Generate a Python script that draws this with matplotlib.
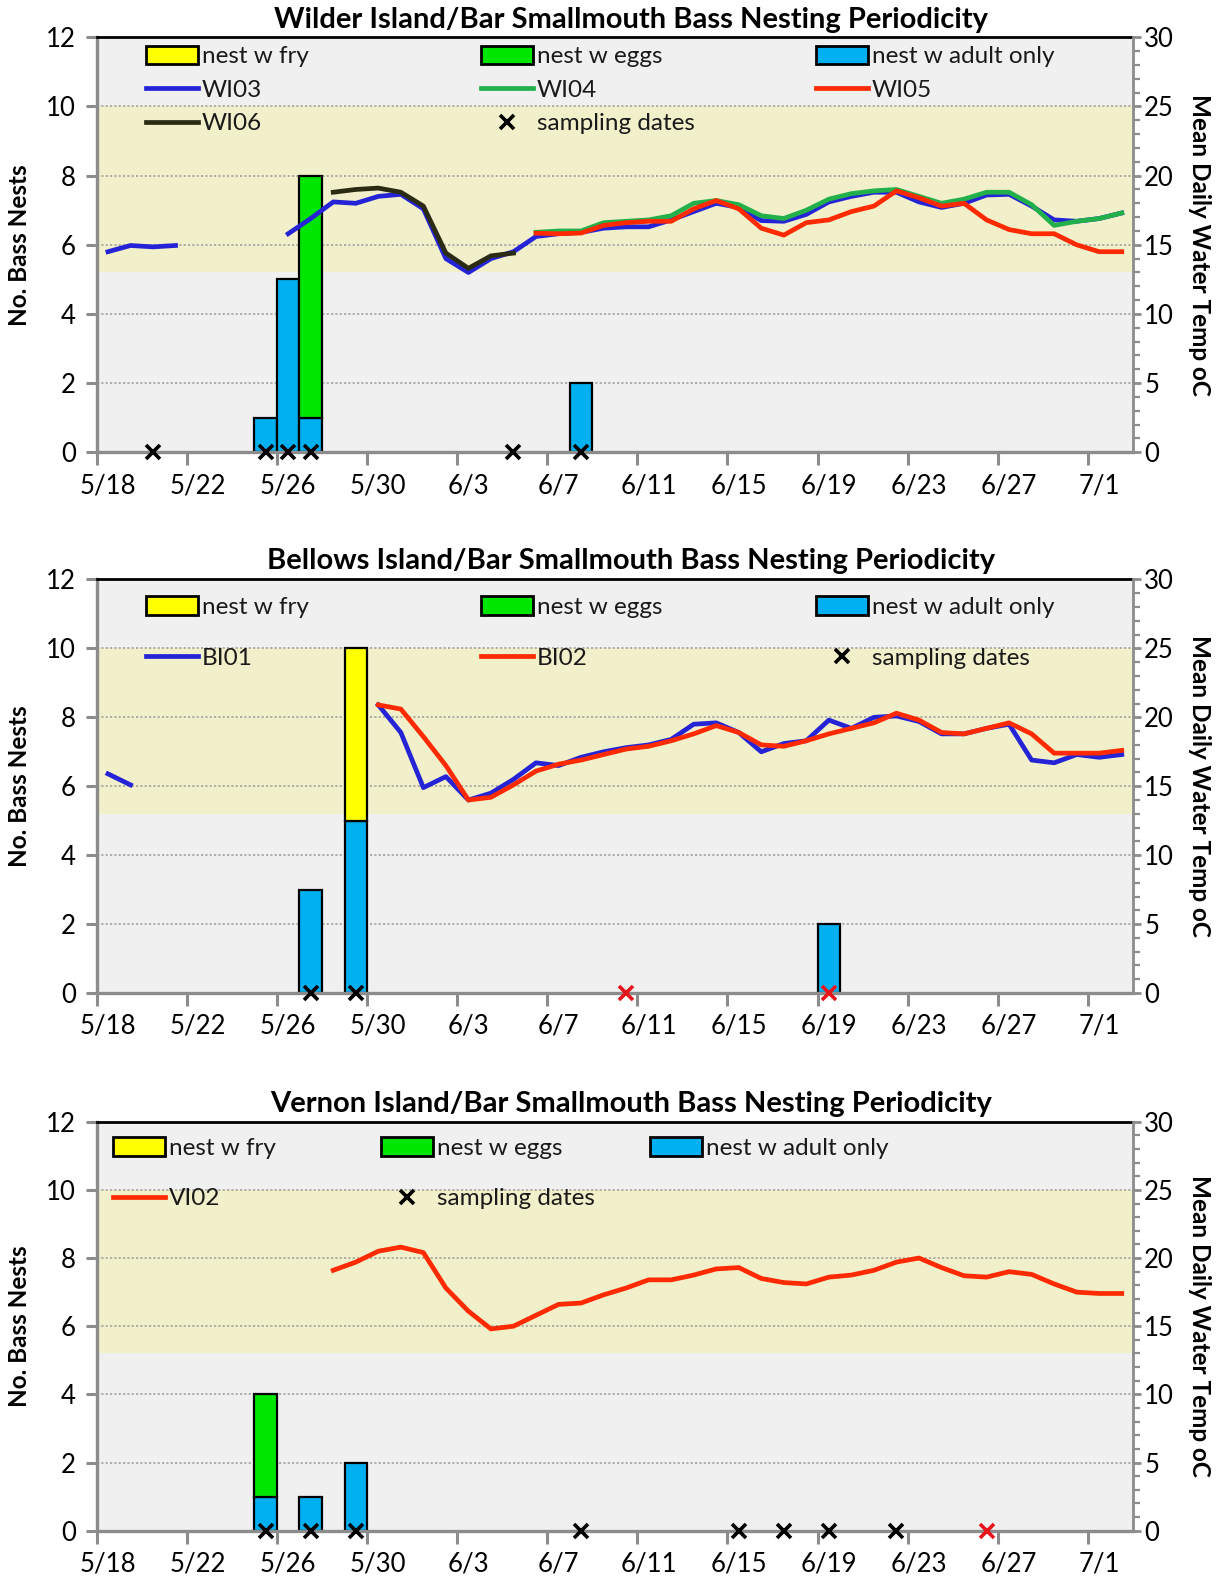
import numpy as np
import matplotlib
matplotlib.use("Agg")
import matplotlib.pyplot as plt
from matplotlib.patches import Patch
from matplotlib.lines import Line2D
from matplotlib.legend import Legend
import datetime as dt

plt.rcParams['font.family'] = ['Lato', 'DejaVu Sans']

nan = np.nan

# ---------------- categories ----------------
start = dt.date(2013, 5, 18)
days = [f"{d.month}/{d.day}" for d in (start + dt.timedelta(i) for i in range(46))]
tick_label_days = days[::4]

NEST_MAX = 12
TEMP_MAX = 30
BAND_LOW, BAND_HIGH = 13, 25   # temperature band (°C)

# ---------------- Wilder ----------------
wilder_bar_dates = ['5/25', '5/26', '5/27', '6/8']
wilder_adult = [1, 5, 1, 2]
wilder_eggs = [0, 0, 7, 0]
wilder_fry = [0, 0, 0, 0]
wilder_samp_black = ['5/20', '5/25', '5/26', '5/27', '6/5', '6/8']
wilder_samp_red = []

WI03 = [14.5, 14.95, 14.85, 14.95, nan, nan, nan, nan, 15.8, 16.9,
        18.1, 18.0, 18.5, 18.65, 17.6, 14.0, 13.0, 14.0, 14.5, 15.6,
        15.8, 15.9, 16.2, 16.3, 16.3, 16.8, 17.4, 18.0, 17.7, 16.75,
        16.7, 17.2, 18.1, 18.5, 18.8, 18.8, 18.1, 17.7, 18.0, 18.6,
        18.65, 17.8, 16.8, 16.7, 16.9, 17.3]
WI04 = [nan] * 19 + [15.9, 16.0, 16.0, 16.6, 16.7, 16.8, 17.1, 18.0, 18.2, 17.9,
                     17.1, 16.9, 17.5, 18.3, 18.7, 18.9, 19.0, 18.5, 18.0, 18.3,
                     18.8, 18.8, 17.9, 16.4, 16.7, 16.9, 17.3]
WI05 = [nan] * 19 + [15.84, 15.8, 15.85, 16.4, 16.6, 16.7, 16.7, 17.6, 18.2, 17.6,
                     16.2, 15.7, 16.6, 16.8, 17.4, 17.8, 18.9, 18.4, 17.8, 18.0,
                     16.8, 16.1, 15.8, 15.8, 15.0, 14.5, 14.5]
WI06 = [nan] * 10 + [18.8, 19.0, 19.1, 18.8, 17.8, 14.4, 13.3, 14.2, 14.4] + [nan] * 27

# ---------------- Bellows ----------------
bellows_bar_dates = ['5/27', '5/29', '6/19']
bellows_adult = [3, 5, 2]
bellows_eggs = [0, 0, 0]
bellows_fry = [0, 5, 0]
bellows_samp_black = ['5/27', '5/29']
bellows_samp_red = ['6/10', '6/19']

BI01 = [15.9, 15.1] + [nan] * 10 + [20.9, 18.9, 14.9, 15.7, 14.0, 14.5, 15.5, 16.7,
                                    16.5, 17.1, 17.5, 17.8, 18.0, 18.4, 19.5, 19.6, 18.9, 17.5,
                                    18.1, 18.3, 19.8, 19.2, 20.0, 20.1, 19.7, 18.8, 18.8, 19.2,
                                    19.5, 16.9, 16.7, 17.3, 17.1, 17.3]
BI02 = [nan] * 12 + [20.9, 20.6, 18.6, 16.5, 14.0, 14.2, 15.1, 16.1,
                     16.6, 16.9, 17.3, 17.7, 17.9, 18.3, 18.8, 19.4, 18.9, 18.0,
                     17.9, 18.3, 18.8, 19.2, 19.6, 20.3, 19.8, 18.9, 18.8, 19.2,
                     19.6, 18.8, 17.4, 17.4, 17.4, 17.6]

# ---------------- Vernon ----------------
vernon_bar_dates = ['5/25', '5/27', '5/29']
vernon_adult = [1, 1, 2]
vernon_eggs = [3, 0, 0]
vernon_fry = [0, 0, 0]
vernon_samp_black = ['5/25', '5/27', '5/29', '6/8', '6/15', '6/17', '6/19', '6/22']
vernon_samp_red = ['6/26']

VI02 = [nan] * 10 + [19.1, 19.7, 20.5, 20.8, 20.4, 17.8, 16.1, 14.8, 15.0, 15.8,
                     16.6, 16.7, 17.3, 17.8, 18.4, 18.4, 18.75, 19.2, 19.3, 18.5,
                     18.2, 18.1, 18.6, 18.75, 19.1, 19.7, 20.0, 19.3, 18.7, 18.6,
                     19.0, 18.8, 18.1, 17.5, 17.4, 17.4]

# ---------------- styles ----------------
C_ADULT = '#00b0f0'
C_EGGS = '#00e600'
C_FRY = '#ffff00'
C_BLUE = '#2424d6'
C_GREEN = '#22b04a'
C_RED = '#ff2a00'
C_DARK = '#2b2b12'
GREY = '#8c8c8c'
FS_TICK = 18.5
FS_LEG = 17.5

W, H = 1223, 1579
fig = plt.figure(figsize=(W / 100, H / 100), dpi=100)


def rect(left, top, right, bottom):
    return [left / W, 1 - bottom / H, (right - left) / W, (bottom - top) / H]


def panel(r, title, title_y, bar_dates, adult, eggs, fry, samp_black, samp_red,
          series, legend_items):
    ax = fig.add_axes(r)
    ax2 = ax.twinx()
    x = np.arange(len(days))
    ax.set_xlim(-0.5, len(days) - 0.5)
    ax.set_ylim(0, NEST_MAX)
    ax2.set_ylim(0, TEMP_MAX)
    ax.set_facecolor('#f0f0f0')
    k = NEST_MAX / TEMP_MAX
    ax.axhspan(BAND_LOW * k, BAND_HIGH * k, color='#f2efcb', zorder=0, lw=0)
    ax.set_axisbelow(True)
    ax.yaxis.grid(True, linestyle=(0, (1.2, 1.2)), color='#a8a8a0', lw=1.3)

    idx = np.array([days.index(d) for d in bar_dates])
    adult = np.array(adult, float)
    eggs = np.array(eggs, float)
    fry = np.array(fry, float)
    for vals, bottom, col in [(adult, 0 * adult, C_ADULT), (eggs, adult, C_EGGS),
                              (fry, adult + eggs, C_FRY)]:
        m = vals > 0
        ax.bar(idx[m], vals[m], bottom=bottom[m], width=1.0, color=col,
               edgecolor='black', lw=1.6, zorder=2)

    for dates, col in [(samp_black, 'black'), (samp_red, '#e8141c')]:
        if dates:
            si = [days.index(d) for d in dates]
            ax.plot(si, np.zeros(len(si)), ls='none', marker='x', color=col,
                    ms=10, mew=2.6, clip_on=False, zorder=6)

    for label, data, col in series:
        ax2.plot(x, np.array(data, float), color=col, lw=3.4, zorder=3,
                 solid_joinstyle='round')

    # spines
    for a in (ax, ax2):
        for s in a.spines.values():
            s.set_visible(False)
    ax.spines['top'].set_visible(True)
    ax.spines['top'].set_color('black')
    ax.spines['top'].set_linewidth(2)
    for s in ('left', 'bottom'):
        ax.spines[s].set_visible(True)
        ax.spines[s].set_color(GREY)
        ax.spines[s].set_linewidth(2.4)
    ax2.spines['right'].set_visible(True)
    ax2.spines['right'].set_color(GREY)
    ax2.spines['right'].set_linewidth(2.0)

    ax.set_yticks(range(0, NEST_MAX + 1, 2))
    ax.tick_params(axis='y', direction='out', length=8, width=2.2, color=GREY,
                   labelsize=FS_TICK, pad=7)
    ax.set_xticks(np.arange(-0.5, len(days), 4))
    ax.set_xticklabels([])
    ax.set_xticks(np.arange(0, len(days), 4), minor=True)
    ax.set_xticklabels(tick_label_days, minor=True)
    ax.tick_params(axis='x', which='major', direction='out', length=9, width=2.2,
                   color=GREY)
    ax.tick_params(axis='x', which='minor', length=0, labelsize=FS_TICK, pad=15)

    ax2.set_yticks(range(0, TEMP_MAX + 1, 5))
    ax2.set_yticks(range(0, TEMP_MAX + 1, 1), minor=True)
    ax2.tick_params(axis='y', which='major', direction='out', length=6, width=2,
                    color=GREY, labelsize=FS_TICK, pad=2)
    ax2.tick_params(axis='y', which='minor', direction='out', length=5, width=1.6,
                    color=GREY)

    # legends
    for h, lab, lx, ly in legend_items:
        leg = Legend(ax2, [h], [lab], loc='center left', bbox_to_anchor=(lx, ly),
                     frameon=False, borderpad=0, borderaxespad=0,
                     handlelength=2.15, handletextpad=0.15, handleheight=0.8,
                     fontsize=FS_LEG, labelcolor='#1a1a1a')
        ax2.add_artist(leg)

    # titles / labels
    fig.text(0.516, 1 - title_y / H, title, ha='center', va='center',
             fontsize=21, fontweight='bold')
    cy = r[1] + r[3] / 2
    fig.text(20 / W, cy, 'No. Bass Nests', rotation=90, ha='center', va='center',
             fontsize=17.5, fontweight='bold')
    fig.text(1199 / W, cy, 'Mean Daily Water Temp oC', rotation=-90, ha='center',
             va='center', fontsize=17.5, fontweight='bold')
    return ax, ax2


def bar_h(col):
    return Patch(facecolor=col, edgecolor='black', lw=2)


def line_h(col):
    return Line2D([], [], color=col, lw=3.4)


samp_h = Line2D([], [], ls='none', marker='x', color='black', ms=10, mew=2.6)

# Wilder
c1, c2, c3 = 0.0476, 0.371, 0.694
r1, r2, r3 = 0.954, 0.873, 0.792
panel(rect(96.7, 37.3, 1133, 452.3),
      'Wilder Island/Bar Smallmouth Bass Nesting Periodicity', 20,
      wilder_bar_dates, wilder_adult, wilder_eggs, wilder_fry,
      wilder_samp_black, wilder_samp_red,
      [('WI03', WI03, C_BLUE), ('WI04', WI04, C_GREEN), ('WI05', WI05, C_RED),
       ('WI06', WI06, C_DARK)],
      [(bar_h(C_FRY), 'nest w fry', c1, r1), (bar_h(C_EGGS), 'nest w eggs', c2, r1),
       (bar_h(C_ADULT), 'nest w adult only', c3, r1),
       (line_h(C_BLUE), 'WI03', c1, r2), (line_h(C_GREEN), 'WI04', c2, r2),
       (line_h(C_RED), 'WI05', c3, r2),
       (line_h(C_DARK), 'WI06', c1, r3), (samp_h, 'sampling dates', c2, r3)])

# Bellows
r1, r2 = 0.933, 0.811
panel(rect(96.7, 579.5, 1133, 993),
      'Bellows Island/Bar Smallmouth Bass Nesting Periodicity', 561,
      bellows_bar_dates, bellows_adult, bellows_eggs, bellows_fry,
      bellows_samp_black, bellows_samp_red,
      [('BI01', BI01, C_BLUE), ('BI02', BI02, C_RED)],
      [(bar_h(C_FRY), 'nest w fry', c1, r1), (bar_h(C_EGGS), 'nest w eggs', c2, r1),
       (bar_h(C_ADULT), 'nest w adult only', c3, r1),
       (line_h(C_BLUE), 'BI01', c1, r2), (line_h(C_RED), 'BI02', c2, r2),
       (samp_h, 'sampling dates', c3, r2)])

# Vernon
c1, c2, c3 = 0.0155, 0.274, 0.534
r1, r2 = 0.935, 0.812
panel(rect(96.7, 1121.7, 1133, 1530.7),
      'Vernon Island/Bar Smallmouth Bass Nesting Periodicity', 1104,
      vernon_bar_dates, vernon_adult, vernon_eggs, vernon_fry,
      vernon_samp_black, vernon_samp_red,
      [('VI02', VI02, C_RED)],
      [(bar_h(C_FRY), 'nest w fry', c1, r1), (bar_h(C_EGGS), 'nest w eggs', c2, r1),
       (bar_h(C_ADULT), 'nest w adult only', c3, r1),
       (line_h(C_RED), 'VI02', c1, r2), (samp_h, 'sampling dates', c2, r2)])

fig.savefig('out.png', dpi=100)
